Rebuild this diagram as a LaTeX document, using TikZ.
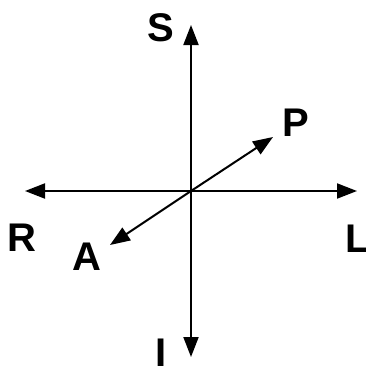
\documentclass[tikz,border=0pt]{standalone}
\usepackage{fontspec}
\setmainfont{Liberation Sans}
\usetikzlibrary{arrows.meta}
\begin{document}
\begin{tikzpicture}[x=1pt,y=-1pt,
  axis/.style={line width=2pt,-{Triangle[length=20pt,width=15pt]}},
  lbl/.style={font=\fontsize{40}{40}\selectfont\bfseries,inner sep=0pt,anchor=center}]
\useasboundingbox (0,0) rectangle (366,367);
\coordinate (O) at (191,191);
\coordinate (Ts) at (191,25);
\coordinate (Ti) at (191,357);
\coordinate (Tr) at (25,191);
\coordinate (Tl) at (357,191);
\coordinate (Tp) at (273,137);
\coordinate (Ta) at (110,245);
\draw[axis] (O) -- (Ts);
\draw[axis] (O) -- (Ti);
\draw[axis] (O) -- (Tr);
\draw[axis] (O) -- (Tl);
\draw[axis] (O) -- (Tp);
\draw[axis] (O) -- (Ta);
\node[lbl] (S) at (161,28) {S};
\node[lbl] (P) at (296,123) {P};
\node[lbl] (R) at (22,238) {R};
\node[lbl] (L) at (358,239) {L};
\node[lbl] (A) at (87,257) {A};
\node[lbl] (I) at (161.5,353) {I};
\end{tikzpicture}
\end{document}
